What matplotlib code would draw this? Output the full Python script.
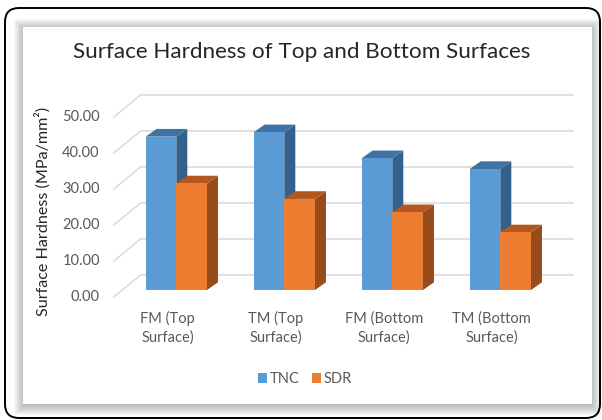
import matplotlib
matplotlib.use("Agg")
import matplotlib.pyplot as plt
from matplotlib.patches import Polygon, FancyBboxPatch, Rectangle
from matplotlib.transforms import offset_copy
import numpy as np

plt.rcParams['font.family'] = ['Lato', 'DejaVu Sans']

# ---- data ----
categories = ["FM (Top\nSurface)", "TM (Top\nSurface)", "FM (Bottom\nSurface)", "TM (Bottom\nSurface)"]
series_names = ["TNC", "SDR"]
tnc = [42.6, 43.8, 36.6, 33.6]
sdr = [29.6, 25.3, 21.6, 16.0]
y_ticks = [0, 10, 20, 30, 40, 50]
y_tick_labels = ["0.00", "10.00", "20.00", "30.00", "40.00", "50.00"]
title = "Surface Hardness of Top and Bottom Surfaces"
y_label = "Surface Hardness (MPa/mm²)"

# ---- style ----
front_cols = ["#5b9bd5", "#ed7d31"]
top_cols = ["#3f73a3", "#b4571e"]
side_cols = ["#32618d", "#984b1b"]
grid_col = "#d9d9d9"
text_col = "#595959"

W, H = 602, 420
fig = plt.figure(figsize=(W / 100, H / 100), dpi=100)
fig.patch.set_facecolor("white")

# background canvas in pixel units for frame and panel decoration
bg = fig.add_axes([0, 0, 1, 1])
bg.set_xlim(0, W)
bg.set_ylim(H, 0)
bg.axis("off")

bg.add_patch(FancyBboxPatch((5, 8), 595, 410, boxstyle="round,pad=0,rounding_size=14",
                            fc="white", ec="black", lw=1.4))
px0, py0, px1, py1 = 23, 27, 592, 404
for i in range(10, 0, -1):
    bg.add_patch(Rectangle((px0 - i + 1, py0 - i + 2), (px1 - px0) + 2 * i - 2, (py1 - py0) + 2 * i - 1,
                           fc="#000000", ec="none", alpha=0.026))
bg.add_patch(Rectangle((px0, py0), px1 - px0, py1 - py0, fc="white", ec="none"))

# plotting axes: front plane of the bars
ax_l, ax_b, ax_w, ax_h = 122.3, 130, 432, 180
ax = fig.add_axes([ax_l / W, ax_b / H, ax_w / W, ax_h / H])
ax.patch.set_alpha(0)
ax.axis("off")
ax.set_xlim(-0.5, 3.5)
ax.set_ylim(0, 50)
ux = ax_w / 4.0   # px per category unit
uy = ax_h / 50.0  # px per value unit

# depth offsets (pixels)
front_dx, front_dy = -8.5, -7.0
back_dx, back_dy = 18.2, 15.0
bar_dx, bar_dy = 11.0, 7.7

# gridlines: back wall lines and left-wall diagonals
for v in y_ticks:
    ax.plot([-0.5 + back_dx / ux, 3.5 + back_dx / ux], [v + back_dy / uy] * 2,
            color=grid_col, lw=1.1, clip_on=False, zorder=1)
    ax.plot([-0.5 + front_dx / ux, -0.5 + back_dx / ux],
            [v + front_dy / uy, v + back_dy / uy],
            color=grid_col, lw=1.1, clip_on=False, zorder=1)

x = np.arange(len(categories))
bw = 0.284
ddx, ddy = bar_dx / ux, bar_dy / uy

for si, vals in enumerate([tnc, sdr]):
    z = 3 + si * 3
    lefts = x - bw + si * bw
    ax.bar(lefts, vals, bw, align="edge", color=front_cols[si], zorder=z + 2,
           label=series_names[si], clip_on=False)
    for xl, v in zip(lefts, vals):
        xr = xl + bw
        ax.add_patch(Polygon([(xr, 0), (xr + ddx, ddy), (xr + ddx, v + ddy), (xr, v)],
                             closed=True, fc=side_cols[si], ec="none", zorder=z, clip_on=False))
        ax.add_patch(Polygon([(xl, v), (xl + ddx, v + ddy), (xr + ddx, v + ddy), (xr, v)],
                             closed=True, fc=top_cols[si], ec="none", zorder=z + 1, clip_on=False))

# value axis labels on the front plane
tick_tr = offset_copy(ax.transData, fig, x=front_dx - 14, y=front_dy, units="dots")
for v, lab in zip(y_ticks, y_tick_labels):
    ax.text(-0.5, v, lab, transform=tick_tr, ha="right", va="center",
            fontsize=10.5, color=text_col, clip_on=False)

# category labels
cat_tr = offset_copy(ax.transData, fig, x=front_dx, y=-38, units="dots")
for xi, lab in zip(x, categories):
    ax.text(xi, 0, lab, transform=cat_tr, ha="center", va="center",
            fontsize=10.5, color=text_col, linespacing=1.35, clip_on=False)

fig.text(302 / W, 1 - 52 / H, title, ha="center", va="center", fontsize=16.2, color="#262626")
fig.text(43 / W, 1 - 211 / H, y_label, ha="center", va="center", rotation=90,
         fontsize=11.6, color="#262626")

fig.legend(loc="center", bbox_to_anchor=(305 / W, 1 - 379 / H), ncol=2, frameon=False,
           handlelength=0.62, handleheight=0.62, handletextpad=0.2, columnspacing=0.8,
           fontsize=10.5, labelcolor=text_col)

fig.savefig("out.png", dpi=100, facecolor="white")
